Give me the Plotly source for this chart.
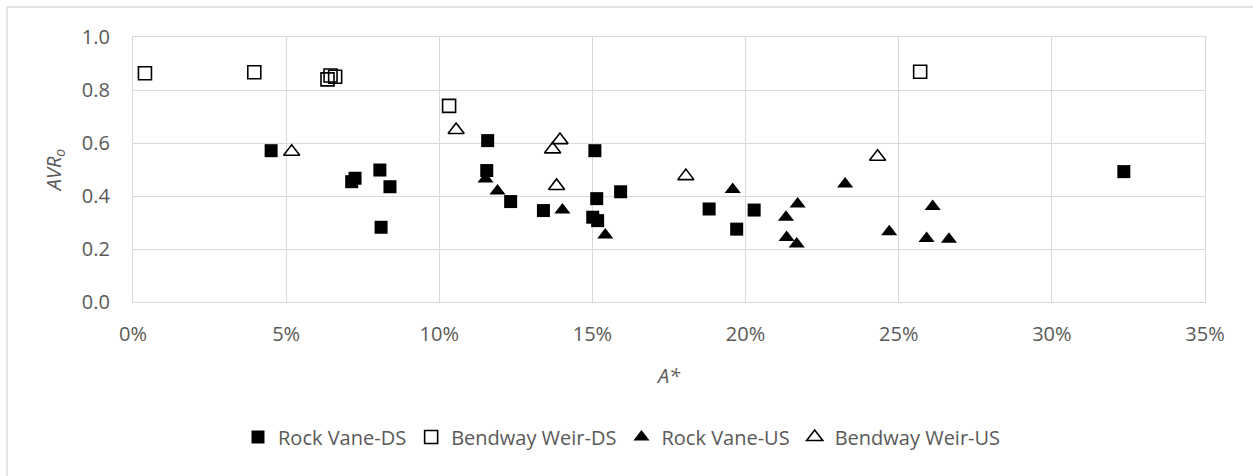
import plotly.graph_objects as go

# A* (fraction) and AVR_o for each structure group
rv_ds_x = [0.0451, 0.0714, 0.0725, 0.0806, 0.0839, 0.0810, 0.1158, 0.1155, 0.1233, 0.1340,
           0.1508, 0.1514, 0.1501, 0.1517, 0.1592, 0.1881, 0.1971, 0.2028, 0.3235]
rv_ds_y = [0.571, 0.454, 0.467, 0.498, 0.435, 0.282, 0.609, 0.496, 0.379, 0.345,
           0.571, 0.390, 0.320, 0.307, 0.416, 0.351, 0.275, 0.347, 0.492]

bw_ds_x = [0.0039, 0.0396, 0.0635, 0.0645, 0.0660, 0.1032, 0.2570]
bw_ds_y = [0.863, 0.867, 0.840, 0.855, 0.850, 0.740, 0.869]

rv_us_x = [0.1151, 0.1190, 0.1402, 0.1542, 0.1958, 0.2170, 0.2132, 0.2134, 0.2167, 0.2325,
           0.2469, 0.2611, 0.2591, 0.2664]
rv_us_y = [0.464, 0.419, 0.347, 0.253, 0.425, 0.370, 0.320, 0.243, 0.219, 0.445,
           0.265, 0.360, 0.240, 0.237]

bw_us_x = [0.0518, 0.1055, 0.1394, 0.1370, 0.1383, 0.1805, 0.2431]
bw_us_y = [0.567, 0.649, 0.611, 0.576, 0.438, 0.475, 0.548]

x_ticks = [0, 0.05, 0.10, 0.15, 0.20, 0.25, 0.30, 0.35]
y_ticks = [0.0, 0.2, 0.4, 0.6, 0.8, 1.0]

FONT = "Open Sans"
GRAY = "#595959"
GRID = "#d9d9d9"

fig = go.Figure()

fig.add_trace(go.Scatter(
    x=rv_ds_x, y=rv_ds_y, mode="markers", name="Rock Vane-DS",
    marker=dict(symbol="square", size=13, color="black", line=dict(width=0)),
))
fig.add_trace(go.Scatter(
    x=bw_ds_x, y=bw_ds_y, mode="markers", name="Bendway Weir-DS",
    marker=dict(symbol="square-open", size=13, color="black", line=dict(width=1.6)),
))
fig.add_trace(go.Scatter(
    x=rv_us_x, y=rv_us_y, mode="markers", name="Rock Vane-US",
    marker=dict(symbol="triangle-up", size=14, color="black", line=dict(width=0)),
))
fig.add_trace(go.Scatter(
    x=bw_us_x, y=bw_us_y, mode="markers", name="Bendway Weir-US",
    marker=dict(symbol="triangle-up-open", size=14, color="black", line=dict(width=1.6)),
))

W, H = 1253, 476
L, R, T, B = 133, 48, 37, 174
pw, ph = W - L - R, H - T - B

def px_x(p):
    return (p - L) / pw

def px_y(p):
    return (H - B - p) / ph

# outer chart border (left and top edges visible)
fig.add_shape(type="line", xref="paper", yref="paper",
              x0=px_x(7), x1=px_x(7), y0=px_y(H + 5), y1=px_y(7),
              line=dict(color=GRID, width=1.3))
fig.add_shape(type="line", xref="paper", yref="paper",
              x0=px_x(7), x1=px_x(W + 5), y0=px_y(7), y1=px_y(7),
              line=dict(color=GRID, width=1.3))

fig.update_layout(
    width=W, height=H,
    margin=dict(l=L, r=R, t=T, b=B),
    paper_bgcolor="white", plot_bgcolor="white",
    font=dict(family=FONT, size=20, color=GRAY),
    showlegend=True,
    legend=dict(orientation="h", x=px_x(622), xanchor="center",
                y=px_y(437), yanchor="middle",
                font=dict(family=FONT, size=20, color=GRAY),
                itemwidth=30, tracegroupgap=0),
    xaxis=dict(
        range=[0, 0.35], tickvals=x_ticks, tickformat=".0%",
        showgrid=True, gridcolor=GRID, gridwidth=1.3,
        showline=True, linecolor=GRID, linewidth=1.3, mirror=True,
        zeroline=False, ticks="", ticklabelstandoff=14,
        tickfont=dict(family=FONT, size=20, color=GRAY),
        title=dict(text="<i>A*</i>", standoff=22,
                   font=dict(family=FONT, size=20, color=GRAY)),
    ),
    yaxis=dict(
        range=[0, 1.0], tickvals=y_ticks, tickformat=".1f",
        showgrid=True, gridcolor=GRID, gridwidth=1.3,
        showline=True, linecolor=GRID, linewidth=1.3, mirror=True,
        zeroline=False, ticks="", ticklabelstandoff=18,
        tickfont=dict(family=FONT, size=20, color=GRAY),
        title=dict(text="<i>AVR<sub>o</sub></i>", standoff=14,
                   font=dict(family=FONT, size=20, color=GRAY)),
    ),
)

fig.write_html("out.html")
